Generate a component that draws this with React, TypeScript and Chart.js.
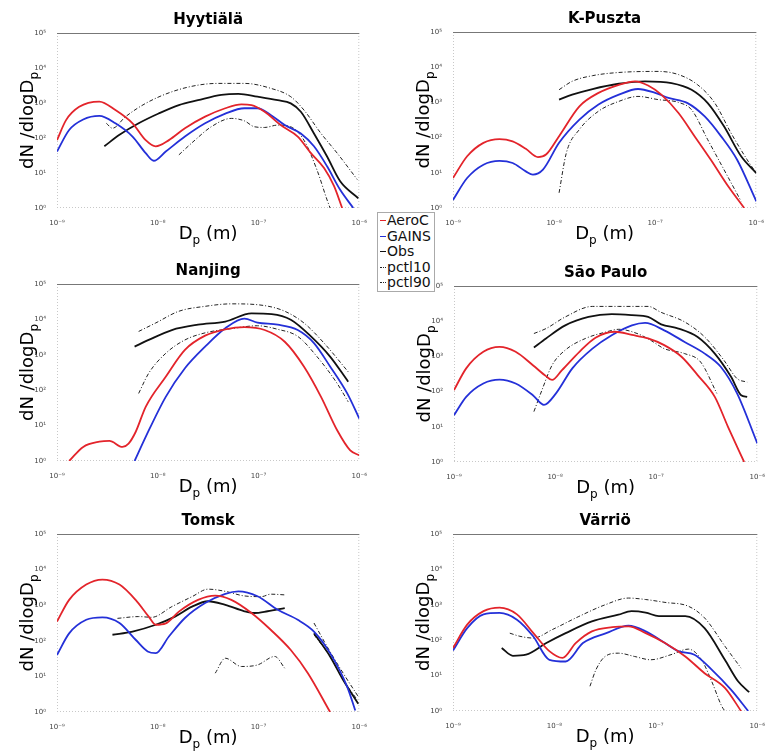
import React, { useEffect, useRef } from 'react';
import { Chart, registerables } from 'chart.js';

Chart.register(...registerables);

type Pt = [number, number | null]; // [diameter in nm, dN/dlogDp]

// ---- axis ticks ----
const xTickValues = [1e-9, 1e-8, 1e-7, 1e-6];
const xTickLabels = ['10⁻⁹', '10⁻⁸', '10⁻⁷', '10⁻⁶'];
const yTickValues = [1, 10, 100, 1000, 1e4, 1e5];
const yTickLabels = ['10⁰', '10¹', '10²', '10³', '10⁴', '10⁵'];

// ---- series ----
const seriesNames = ['AeroC', 'GAINS', 'Obs', 'pctl10', 'pctl90'];
const seriesColors = ['#e3242b', '#2430d8', '#111111', '#222222', '#222222'];

// ---- Hyytiälä ----
const hyyAeroC: Pt[] = [[1.0, 87], [1.23, 324], [1.66, 776], [2.63, 1100], [3.8, 631], [5.62, 263], [7.59, 87], [9.55, 58], [12.9, 87], [18.6, 190], [29.5, 407], [46.8, 708], [67.6, 912], [85.1, 871], [115, 562], [166, 234], [245, 110], [331, 37], [447, 13.8], [562, 4.2], [676, 1]];
const hyyGains: Pt[] = [[1.0, 41], [1.32, 170], [1.82, 339], [2.63, 427], [3.8, 263], [5.62, 110], [7.59, 37], [9.12, 22.4], [12.0, 41], [18.6, 110], [29.5, 263], [46.8, 500], [72.4, 708], [97.7, 708], [132, 457], [182, 234], [263, 135], [355, 58], [479, 15.5], [646, 3.3], [871, 1]];
const hyyObs: Pt[] = [[2.95, 58], [4.17, 123], [6.46, 263], [10.2, 500], [16.2, 871], [25.1, 1200], [42.7, 1700], [63.1, 1820], [97.7, 1510], [155, 1200], [209, 977], [263, 562], [355, 135], [479, 29.5], [646, 5.8], [977, 1.9]];
const hyyP10: Pt[] = [[16.2, 33], [23.4, 87], [33.9, 209], [53.7, 363], [72.4, 309], [91.2, 209], [115, 200], [155, 234], [209, 209], [282, 87], [380, 12.3], [479, 1.7], [513, 1]];
const hyyP90: Pt[] = [[3.09, 263], [3.55, 190], [4.79, 407], [7.59, 977], [13.8, 2090], [25.1, 3240], [39.8, 3630], [72.4, 3630], [132, 2630], [209, 1510], [282, 631], [417, 135], [603, 37], [955, 6.5]];

// ---- K-Puszta ----
const kpAeroC: Pt[] = [[1.0, 7.1], [1.38, 29.5], [2.0, 71], [2.88, 91], [3.89, 78], [5.25, 48], [6.92, 28], [8.32, 33], [11.2, 110], [17.8, 776], [27.5, 1860], [43.7, 3160], [63.1, 3980], [85.1, 3020], [115, 1660], [170, 500], [245, 110], [355, 23.4], [525, 4.2], [759, 1]];
const kpGains: Pt[] = [[1.0, 1.7], [1.38, 7.1], [2.0, 17], [2.88, 21.9], [3.89, 19], [5.25, 11], [6.17, 8.9], [7.76, 12.3], [11.2, 71], [17.8, 324], [27.5, 871], [43.7, 1660], [67.6, 2400], [100, 1860], [135, 1350], [209, 955], [309, 398], [447, 110], [646, 23.4], [1000, 1.55]];
const kpObs: Pt[] = [[11.2, 1200], [15.1, 1660], [24.0, 2400], [43.7, 3390], [79.4, 3980], [145, 3550], [229, 2290], [331, 955], [479, 209], [708, 29.5], [1000, 9.8]];
const kpP10: Pt[] = [[11.2, 2.7], [13.2, 36.3], [17.8, 170], [27.5, 562], [43.7, 1070], [67.6, 1480], [107, 1200], [170, 1000], [229, 617], [331, 87], [479, 12.3], [708, 1.55]];
const kpP90: Pt[] = [[11.2, 2290], [15.1, 3980], [24.0, 5750], [43.7, 7080], [107, 7590], [170, 6170], [263, 3160], [389, 955], [562, 135], [813, 23.4], [1000, 9.8]];

// ---- Nanjing ----
const nanAeroC: Pt[] = [[1.32, 1], [1.82, 2.5], [2.63, 3.5], [3.31, 3.7], [4.47, 2.5], [5.13, 3.1], [6.03, 6.6], [7.59, 34], [12.0, 240], [18.6, 1380], [29.5, 3470], [46.8, 5250], [72.4, 6030], [115, 5010], [182, 2340], [282, 468], [417, 65], [603, 7.4], [813, 2.0], [1000, 1.45]];
const nanGains: Pt[] = [[5.89, 1], [7.59, 4.8], [12.0, 65], [18.6, 417], [29.5, 1700], [46.8, 5620], [72.4, 10500], [97.7, 8130], [155, 7080], [245, 5010], [355, 2140], [513, 468], [759, 81], [1000, 15.8]];
const nanObs: Pt[] = [[5.89, 1700], [8.13, 2630], [13.8, 5010], [25.1, 7080], [46.8, 8710], [85.1, 14800], [135, 14100], [209, 9770], [331, 3310], [513, 891], [776, 174]];
const nanP10: Pt[] = [[6.46, 81], [8.13, 302], [12.0, 1100], [18.6, 2630], [29.5, 4170], [53.7, 5500], [97.7, 6610], [155, 5250], [245, 3310], [380, 891], [603, 155], [776, 47]];
const nanP90: Pt[] = [[6.46, 4570], [9.55, 7940], [16.2, 17000], [29.5, 23400], [53.7, 27500], [115, 24500], [182, 17000], [282, 7940], [447, 2140], [776, 331]];

// ---- São Paulo ----
const spAeroC: Pt[] = [[1.0, 110], [1.32, 457], [1.95, 1350], [2.82, 1860], [4.07, 1350], [6.03, 562], [8.13, 275], [9.33, 214], [11.7, 407], [17.4, 1350], [25.1, 3390], [38.9, 5010], [57.5, 4070], [83.2, 3240], [120, 2090], [178, 977], [257, 295], [380, 71], [513, 10], [741, 1]];
const spGains: Pt[] = [[1.0, 21.4], [1.32, 71], [1.95, 170], [2.82, 219], [4.07, 170], [6.03, 79], [7.76, 42], [10.2, 89], [14.8, 457], [23.4, 1660], [36.3, 3980], [57.5, 7590], [77.6, 8910], [120, 5500], [191, 2570], [302, 1200], [437, 500], [631, 89], [1000, 3.4]];
const spObs: Pt[] = [[6.17, 1780], [8.13, 3240], [12.6, 7590], [21.4, 13200], [36.3, 15800], [57.5, 14800], [83.2, 13200], [112, 8130], [166, 6170], [257, 3550], [380, 1200], [550, 263], [692, 79], [794, 71]];
const spP10: Pt[] = [[6.17, 27], [7.41, 110], [9.33, 562], [12.6, 1510], [20.0, 3240], [31.6, 4900], [42.7, 5890], [66.1, 4370], [89.1, 2820], [120, 1660], [191, 1200], [275, 692], [398, 89]];
const spP90: Pt[] = [[6.17, 4470], [8.13, 6170], [12.6, 13200], [23.4, 26300], [42.7, 26300], [83.2, 26300], [112, 17800], [191, 9550], [302, 3550], [468, 776], [631, 234], [794, 186]];

// ---- Tomsk ----
const tomAeroC: Pt[] = [[1.0, 347], [1.32, 1410], [1.95, 3800], [2.82, 5250], [4.17, 3800], [6.03, 1410], [8.13, 479], [9.55, 282], [12.0, 309], [16.2, 661], [25.1, 1410], [37.2, 1860], [53.7, 1410], [85.1, 603], [132, 204], [209, 55], [309, 12.3], [513, 1]];
const tomGains: Pt[] = [[1.0, 40], [1.32, 162], [1.95, 389], [2.82, 457], [4.17, 316], [6.03, 107], [7.94, 50], [9.55, 45], [12.9, 132], [18.6, 437], [29.5, 1150], [46.8, 2090], [63.1, 2450], [97.7, 1780], [155, 741], [245, 389], [355, 182], [513, 45], [759, 5.1], [912, 1.1]];
const tomObs: Pt[] = [[3.55, 148], [5.62, 182], [9.55, 282], [14.8, 479], [21.9, 912], [31.6, 1290], [46.8, 1020], [72.4, 676], [91.2, 603], [123, 676], [182, 832], [250, null], [355, 162], [513, 36.3], [692, 7.9], [977, 1.7]];
const tomP10: Pt[] = [[37.2, 12.3], [46.8, 32.4], [67.6, 19], [97.7, 21], [145, 36.3], [182, 17], [250, null], [355, 148], [513, 36.3], [692, 7.9], [955, 2.2]];
const tomP90: Pt[] = [[3.98, 427], [6.46, 479], [8.71, 457], [13.8, 912], [21.9, 1740], [31.6, 2820], [46.8, 2450], [72.4, 1820], [107, 1740], [132, 2040], [182, 1950], [250, null], [355, 316], [479, 69], [692, 12.3], [977, 2.7]];

// ---- Värriö ----
const varAeroC: Pt[] = [[1.0, 60], [1.38, 275], [2.0, 661], [2.88, 832], [4.27, 537], [6.17, 162], [8.91, 49], [12.0, 31.6], [16.2, 83], [23.4, 178], [37.2, 234], [53.7, 245], [79.4, 158], [123, 83], [195, 34.7], [302, 11.7], [479, 4.5], [692, 1]];
const varGains: Pt[] = [[1.0, 51], [1.38, 219], [2.0, 537], [2.88, 589], [4.27, 380], [6.17, 129], [8.91, 28], [12.9, 25], [19.1, 83], [32.4, 158], [53.7, 257], [79.4, 178], [123, 83], [166, 49], [240, 39], [355, 14.8], [550, 4.0], [813, 1]];
const varObs: Pt[] = [[3.02, 60], [3.89, 36.3], [5.25, 39], [8.32, 83], [12.9, 158], [23.4, 339], [42.7, 525], [57.5, 661], [79.4, 603], [107, 479], [195, 479], [302, 219], [479, 28], [646, 6.9], [832, 3.4]];
const varP10: Pt[] = [[22.4, 5.0], [25.7, 14.8], [31.6, 34.7], [42.7, 43], [61.7, 34.7], [89.1, 28], [141, 39], [209, 56], [282, 28], [355, 6.9], [447, 1.35], [479, 1]];
const varP90: Pt[] = [[3.63, 158], [4.57, 129], [6.17, 115], [9.55, 200], [17.4, 468], [31.6, 1000], [53.7, 1550], [79.4, 1410], [123, 1170], [209, 912], [302, 427], [479, 68], [692, 16.2]];

// ---- panel layout (plot-area rectangles: left, top, right, bottom) ----
const panels = [
  { title: 'Hyytiälä', rect: [57, 33, 362, 208], series: [hyyAeroC, hyyGains, hyyObs, hyyP10, hyyP90] },
  { title: 'K-Puszta', rect: [453, 32, 759, 208], series: [kpAeroC, kpGains, kpObs, kpP10, kpP90] },
  { title: 'Nanjing', rect: [57, 284, 362, 461], series: [nanAeroC, nanGains, nanObs, nanP10, nanP90] },
  { title: 'São Paulo', rect: [454, 286, 760, 462], series: [spAeroC, spGains, spObs, spP10, spP90] },
  { title: 'Tomsk', rect: [57, 534, 362, 712], series: [tomAeroC, tomGains, tomObs, tomP10, tomP90] },
  { title: 'Värriö', rect: [453, 534, 760, 711], series: [varAeroC, varGains, varObs, varP10, varP90] },
];

const FONT = "'DejaVu Sans', sans-serif";
const PADL = 57, PADT = 34, PADR = 8, PADB = 48;

const decorPlugin = {
  id: 'decor',
  beforeDatasetsDraw(chart: any) {
    const { ctx, chartArea: a } = chart;
    ctx.save();
    ctx.lineWidth = 1;
    ctx.strokeStyle = '#c8c8c8';
    ctx.setLineDash([1, 2]);
    ctx.beginPath();
    ctx.moveTo(a.left + 0.5, a.top);
    ctx.lineTo(a.left + 0.5, a.bottom);
    ctx.moveTo(a.right - 0.5, a.top);
    ctx.lineTo(a.right - 0.5, a.bottom);
    ctx.moveTo(a.left, a.bottom - 0.5);
    ctx.lineTo(a.right, a.bottom - 0.5);
    ctx.stroke();
    ctx.setLineDash([]);
    ctx.strokeStyle = '#777';
    ctx.beginPath();
    ctx.moveTo(a.left, a.top + 0.5);
    ctx.lineTo(a.right, a.top + 0.5);
    ctx.stroke();
    ctx.restore();
  },
  afterDraw(chart: any, _args: any, opts: any) {
    const { ctx, chartArea: a } = chart;
    const cx = (a.left + a.right) / 2;
    ctx.save();
    ctx.fillStyle = '#000';
    // title
    ctx.font = `bold 15px ${FONT}`;
    ctx.textAlign = 'center';
    ctx.textBaseline = 'alphabetic';
    ctx.fillText(opts.title, cx, a.top - 9);
    // x title: D_p (m)
    ctx.textAlign = 'left';
    const big = `18px ${FONT}`, small = `12px ${FONT}`;
    ctx.font = big;
    const wD = ctx.measureText('D').width;
    const wRest = ctx.measureText(' (m)').width;
    ctx.font = small;
    const wp = ctx.measureText('p').width;
    let x0 = cx - (wD + wp + wRest) / 2;
    const by = a.bottom + 31;
    ctx.font = big;
    ctx.fillText('D', x0, by);
    ctx.font = small;
    ctx.fillText('p', x0 + wD, by + 5);
    ctx.font = big;
    ctx.fillText(' (m)', x0 + wD + wp, by);
    // y title: dN /dlogD_p
    ctx.translate(a.left - 24, (a.top + a.bottom) / 2);
    ctx.rotate(-Math.PI / 2);
    ctx.font = big;
    const wMain = ctx.measureText('dN /dlogD').width;
    ctx.font = small;
    const wSub = ctx.measureText('p').width;
    const sx = -(wMain + wSub) / 2;
    ctx.font = big;
    ctx.fillText('dN /dlogD', sx, 0);
    ctx.font = small;
    ctx.fillText('p', sx + wMain, 5);
    ctx.restore();
  },
};

function tickLabel(values: number[], labels: string[], v: number) {
  const e = Math.round(Math.log10(v));
  const i = values.findIndex((t) => Math.round(Math.log10(t)) === e);
  return i >= 0 ? labels[i] : '';
}

function Panel({ title, rect, series }: { title: string; rect: number[]; series: Pt[][] }) {
  const ref = useRef<HTMLCanvasElement>(null);
  const [l, t, r, b] = rect;
  const w = r - l + PADL + PADR;
  const h = b - t + PADT + PADB;
  useEffect(() => {
    const chart = new Chart(ref.current as HTMLCanvasElement, {
      type: 'line',
      data: {
        datasets: series.map((s, i) => ({
          label: seriesNames[i],
          data: s.map(([d, v]) => ({ x: d * 1e-9, y: v })),
          borderColor: seriesColors[i],
          borderWidth: i < 3 ? 1.8 : 1,
          borderDash: i < 3 ? [] : [4, 2, 1, 2],
          pointRadius: 0,
          cubicInterpolationMode: 'monotone',
          spanGaps: false,
          fill: false,
          order: i < 3 ? 0 : 1,
        })) as any,
      },
      options: {
        animation: false,
        responsive: false,
        devicePixelRatio: 1,
        layout: { padding: { left: 0, top: PADT, right: PADR, bottom: 0 } },
        plugins: {
          legend: { display: false },
          tooltip: { enabled: false },
          title: { display: false },
          decor: { title },
        } as any,
        scales: {
          x: {
            type: 'logarithmic',
            min: 1e-9,
            max: 1e-6,
            afterBuildTicks: (s: any) => {
              s.ticks = xTickValues.map((v) => ({ value: v }));
            },
            afterFit: (s: any) => {
              s.height = PADB;
            },
            grid: { display: false },
            border: { display: false },
            ticks: {
              autoSkip: false,
              maxRotation: 0,
              padding: 3,
              color: '#444',
              font: { size: 7, family: FONT },
              callback: (v: any) => tickLabel(xTickValues, xTickLabels, Number(v)),
            },
          },
          y: {
            type: 'logarithmic',
            min: 1,
            max: 1e5,
            afterBuildTicks: (s: any) => {
              s.ticks = yTickValues.map((v) => ({ value: v }));
            },
            afterFit: (s: any) => {
              s.width = PADL;
            },
            grid: { display: false },
            border: { display: false },
            ticks: {
              autoSkip: false,
              padding: 3,
              color: '#444',
              font: { size: 7, family: FONT },
              callback: (v: any) => tickLabel(yTickValues, yTickLabels, Number(v)),
            },
          },
        } as any,
      },
      plugins: [decorPlugin],
    });
    return () => chart.destroy();
  }, []);
  return (
    <canvas
      ref={ref}
      width={w}
      height={h}
      style={{ position: 'absolute', left: l - PADL, top: t - PADT, width: w, height: h, display: 'block' }}
    />
  );
}

function Legend() {
  return (
    <div
      style={{
        position: 'absolute',
        left: 377,
        top: 212,
        width: 56,
        border: '1px solid #aaa',
        background: '#fff',
        zIndex: 2,
        fontFamily: FONT,
        fontSize: 14,
        color: '#111',
      }}
    >
      {seriesNames.map((n, i) => (
        <div key={n} style={{ height: 15.5, lineHeight: '15.5px', whiteSpace: 'nowrap', display: 'flex', alignItems: 'center' }}>
          <span
            style={{
              display: 'inline-block',
              width: 6,
              marginLeft: 2,
              marginRight: 1,
              borderTop: `${i < 3 ? 1.5 : 1}px ${i < 3 ? 'solid' : 'dotted'} ${seriesColors[i]}`,
            }}
          />
          <span>{n}</span>
        </div>
      ))}
    </div>
  );
}

export default function App() {
  return (
    <div style={{ position: 'absolute', left: 0, top: 0, width: 766, height: 753, background: '#fff', overflow: 'hidden' }}>
      {panels.map((p) => (
        <Panel key={p.title} title={p.title} rect={p.rect} series={p.series} />
      ))}
      <Legend />
    </div>
  );
}
